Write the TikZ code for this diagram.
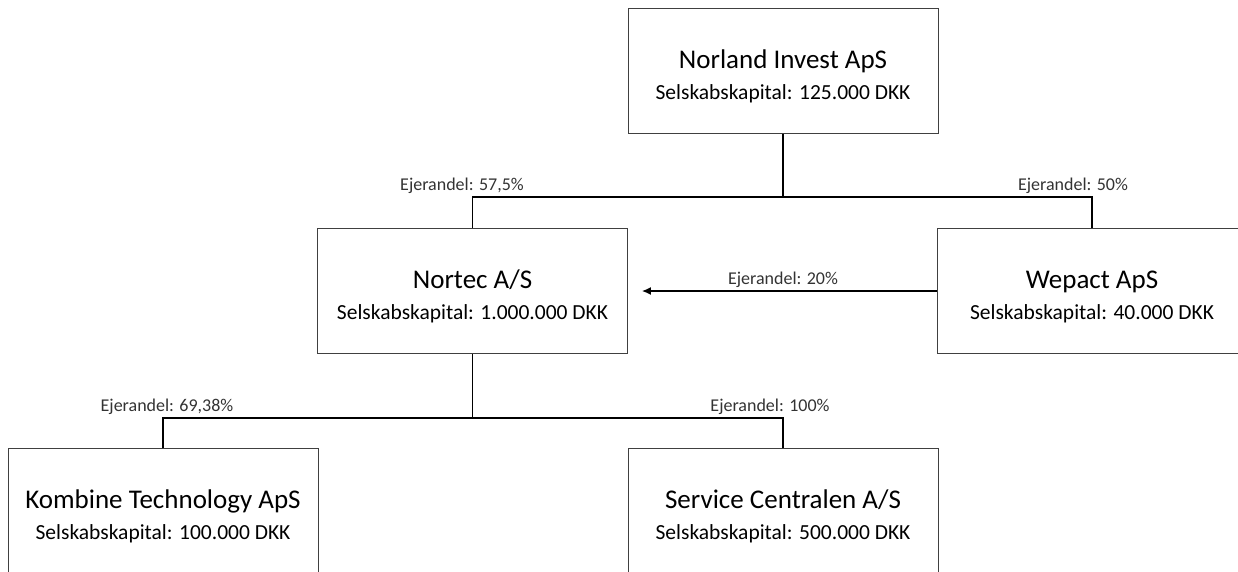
\documentclass[tikz,border=0pt]{standalone}
\usepackage{fontspec}
\setmainfont{Carlito}
\usepackage{tikz}
\usetikzlibrary{arrows.meta}

\begin{document}
\begin{tikzpicture}[x=1pt,y=-1pt,
		firm/.style={draw=black!75,line width=0.9pt,minimum width=310pt,minimum height=125pt,align=center,inner sep=0pt},
		link/.style={line width=1.4pt},
		share/.style={text=black!80,font=\fontsize{18}{20}\selectfont,inner sep=1pt}]
		%\draw[help lines] (0,0) grid[step=50] (1238,571);
		\useasboundingbox (0,0) rectangle (1238,571);
		\newcommand{\firmtext}[2]{\begin{tabular}{@{}c@{}}{\fontsize{27}{30}\selectfont\rule{0pt}{30pt}#1}\\[13pt]{\fontsize{21.5}{24}\selectfont #2}\end{tabular}}
		\node[firm] (norland) at (783,71) {\firmtext{Norland Invest ApS}{Selskabskapital: 125.000 DKK}};
		\node[firm] (nortec) at (472.5,291) {\firmtext{Nortec A/S}{Selskabskapital: 1.000.000 DKK}};
		\node[firm] (wepact) at (1092,291) {\firmtext{Wepact ApS}{Selskabskapital: 40.000 DKK}};
		\node[firm] (kombine) at (163,511) {\firmtext{Kombine Technology ApS}{Selskabskapital: 100.000 DKK}};
		\node[firm] (service) at (783,511) {\firmtext{Service Centralen A/S}{Selskabskapital: 500.000 DKK}};
		\coordinate (topbar) at (783,197);
		\coordinate (lowbar) at (472.5,418);
		\draw[link] (norland.south) -- (topbar);
		\draw[link] (nortec.north) |- (topbar) -| (wepact.north);
		\draw[link] (nortec.south) -- (lowbar);
		\draw[link] (kombine.north) |- (lowbar) -| (service.north);
		\draw[link,-{Latex[length=9pt,width=8pt]},shorten >=14pt] (wepact.west) -- (nortec.east);
		\node[share] (s1) at (462,186) {Ejerandel: 57,5\%};
		\node[share] (s2) at (1073,186) {Ejerandel: 50\%};
		\node[share] (s3) at (783,280) {Ejerandel: 20\%};
		\node[share] (s4) at (167,407) {Ejerandel: 69,38\%};
		\node[share] (s5) at (770,407) {Ejerandel: 100\%};
\end{tikzpicture}
\end{document}
